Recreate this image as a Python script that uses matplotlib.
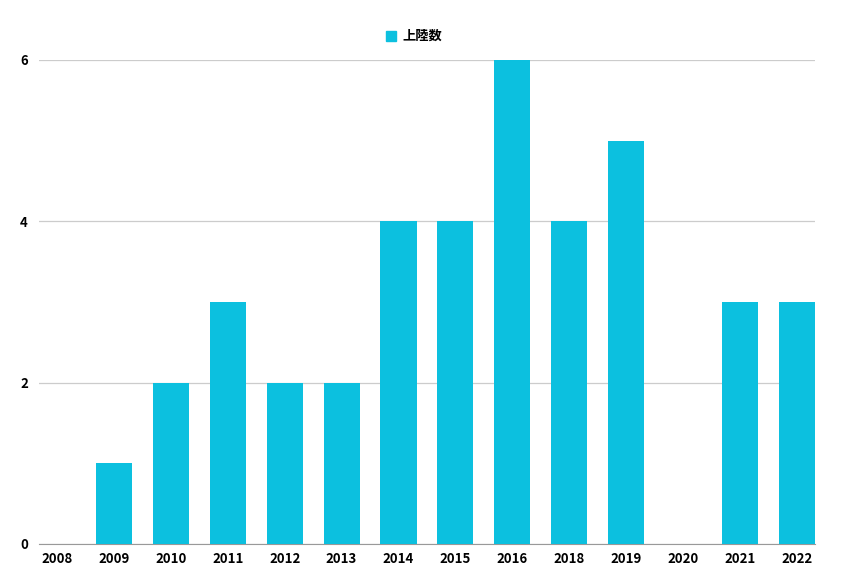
import matplotlib
matplotlib.use("Agg")
import matplotlib.pyplot as plt
from matplotlib.lines import Line2D

plt.rcParams['font.family'] = ['Noto Sans CJK JP', 'DejaVu Sans']

# data
years = ["2008", "2009", "2010", "2011", "2012", "2013", "2014",
         "2015", "2016", "2018", "2019", "2020", "2021", "2022"]
landings = [0, 1, 2, 3, 2, 2, 4, 4, 6, 4, 5, 0, 3, 3]
series_name = "上陸数"
bar_color = "#0cc0df"

fig = plt.figure(figsize=(8.68, 5.84), dpi=100)
ax = fig.add_axes([0.0449, 0.0685, 0.894, 0.8288])

x = list(range(len(years)))
bw = 0.633
ax.bar(x, landings, width=bw, color=bar_color, zorder=3)

ax.set_xlim(-bw / 2, len(years) - 1 + bw / 2)
ax.set_ylim(0, 6)
ax.set_yticks([0, 2, 4, 6])
ax.set_xticks(x)
ax.set_xticklabels(years)

for side in ["top", "right", "left"]:
    ax.spines[side].set_visible(False)
ax.spines["bottom"].set_color("#999999")
ax.spines["bottom"].set_zorder(2)

ax.grid(axis="y", color="#cccccc", linewidth=0.9, zorder=0)
ax.tick_params(axis="both", length=0, labelsize=9.5)
ax.tick_params(axis="x", pad=6)
ax.tick_params(axis="y", pad=8)
for lab in ax.get_xticklabels() + ax.get_yticklabels():
    lab.set_fontweight("bold")

handle = Line2D([], [], marker="s", linestyle="none", color=bar_color, markersize=7)
fig.legend([handle], [series_name], loc="center", bbox_to_anchor=(0.477, 0.938),
           frameon=False, prop={"weight": "bold", "size": 9.5},
           handletextpad=0.5, handlelength=0.8)

fig.savefig("out.png", dpi=100)
